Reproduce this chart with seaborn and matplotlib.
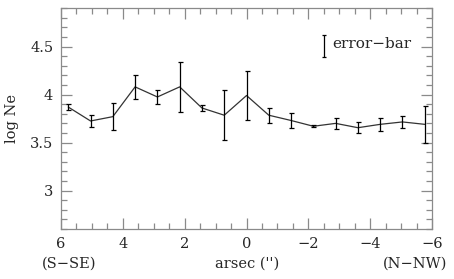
import numpy as np
import pandas as pd
import seaborn as sns
import matplotlib.pyplot as plt
from matplotlib.ticker import MultipleLocator

# positions along the slit (arcsec) and log Ne with errors
arcsec = [5.76, 5.04, 4.32, 3.60, 2.88, 2.16, 1.44, 0.72, 0.0,
          -0.72, -1.44, -2.16, -2.88, -3.60, -4.32, -5.04, -5.76]
log_ne = [3.87, 3.725, 3.77, 4.08, 3.975, 4.08, 3.86, 3.785, 3.99,
          3.785, 3.73, 3.67, 3.70, 3.655, 3.69, 3.715, 3.69]
log_ne_err = [0.035, 0.06, 0.14, 0.125, 0.07, 0.26, 0.03, 0.26, 0.26,
              0.08, 0.08, 0.01, 0.06, 0.055, 0.065, 0.06, 0.19]

x_ticks = [6, 4, 2, 0, -2, -4, -6]
x_tick_labels = ["6", "4", "2", "0", "\u22122", "\u22124", "\u22126"]
y_ticks = [3, 3.5, 4, 4.5]
y_tick_labels = ["3", "3.5", "4", "4.5"]

df = pd.DataFrame({"arcsec": arcsec, "log_ne": log_ne, "err": log_ne_err})

sns.set_style("ticks")
plt.rcParams["font.family"] = ["DejaVu Serif"]
frame_col = "#8a8a8a"
fs = 10.5

fig, ax = plt.subplots(figsize=(4.54, 2.79), dpi=100)
fig.subplots_adjust(left=0.134, right=0.952, top=0.971, bottom=0.179)

sns.lineplot(data=df, x="arcsec", y="log_ne", ax=ax, color="#333333",
             linewidth=0.9, sort=False)
ax.errorbar(df["arcsec"], df["log_ne"], yerr=df["err"], fmt="none",
            ecolor="black", elinewidth=0.9, capsize=1.8, capthick=0.9)

# legend-like error bar sample
ax.errorbar([-2.51], [4.51], yerr=[0.115], fmt="none", ecolor="black",
            elinewidth=0.9, capsize=1.5, capthick=0.9)
ax.text(-2.77, 4.53, "error\u2212bar", fontsize=fs + 0.5, va="center", ha="left")

ax.set_xlim(6, -6)
ax.set_ylim(2.6, 4.9)
ax.set_xticks(x_ticks)
ax.set_xticklabels(x_tick_labels)
ax.set_yticks(y_ticks)
ax.set_yticklabels(y_tick_labels)
ax.xaxis.set_minor_locator(MultipleLocator(0.5))
ax.yaxis.set_minor_locator(MultipleLocator(0.1))
ax.tick_params(which="both", direction="in", top=True, right=True,
               color=frame_col, labelsize=fs, pad=5.5)
ax.tick_params(which="major", length=8, width=0.9)
ax.tick_params(which="minor", length=4, width=0.9)
for s in ax.spines.values():
    s.set_color(frame_col)
    s.set_linewidth(0.9)

ax.set_xlabel("")
ax.set_ylabel("log Ne", fontsize=fs, labelpad=8)
fig.text(0.545, 0.054, "arsec ('')", ha="center", va="center", fontsize=fs)
fig.text(0.0925, 0.054, "(S\u2212SE)", ha="left", va="center", fontsize=fs)
fig.text(0.985, 0.054, "(N\u2212NW)", ha="right", va="center", fontsize=fs)

fig.savefig("out.png", dpi=100)
